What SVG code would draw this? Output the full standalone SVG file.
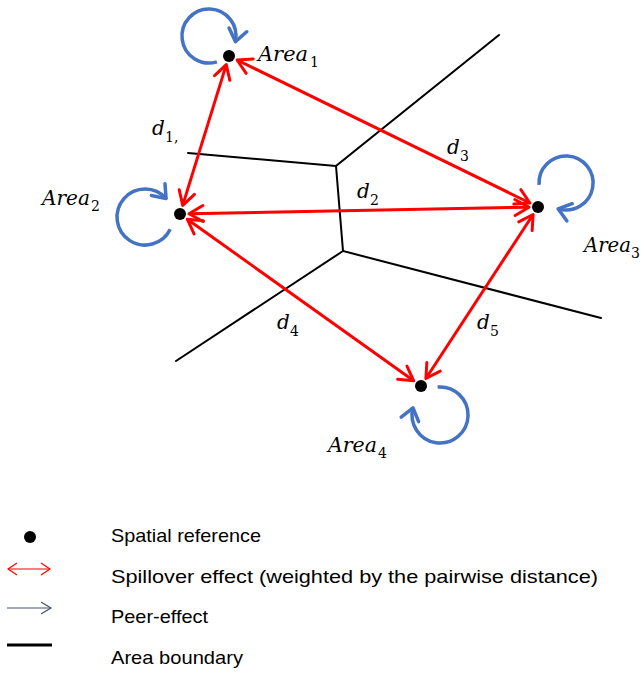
<svg xmlns="http://www.w3.org/2000/svg" width="641" height="674" viewBox="0 0 641 674">
<style>
.bnd{stroke:#000;stroke-width:2;fill:none;stroke-linecap:round}
.sp{stroke:#ff0000;stroke-width:3;fill:none;marker-start:url(#rh);marker-end:url(#rh)}
.lp{stroke:#4472c4;stroke-width:3.5;fill:none;marker-end:url(#bh)}
.dot{fill:#000}
.m{font-family:"DejaVu Serif","Liberation Serif",serif;font-style:italic;font-size:20px;fill:#000}
.sub{font-family:"DejaVu Serif","Liberation Serif",serif;font-size:14px;fill:#000}
.lg{font-family:"Liberation Sans",Arial,sans-serif;font-size:19px;fill:#000}
</style>
<defs>
<marker id="rh" markerUnits="userSpaceOnUse" markerWidth="20" markerHeight="20" viewBox="-16 -10 20 20" refX="0" refY="0" orient="auto-start-reverse">
<path d="M-14,-8 L0,0 L-14,8" fill="none" stroke="#ff0000" stroke-width="3" stroke-linecap="round" stroke-linejoin="round"/>
</marker>
<marker id="bh" markerUnits="userSpaceOnUse" markerWidth="22" markerHeight="22" viewBox="-16 -11 22 22" refX="0" refY="0" orient="auto">
<path d="M-12,-9 L0,0 L-12,9" fill="none" stroke="#4472c4" stroke-width="3.5" stroke-linecap="round" stroke-linejoin="round"/>
</marker>
<marker id="rl" markerUnits="userSpaceOnUse" markerWidth="14" markerHeight="14" viewBox="-10 -7 14 14" refX="0" refY="0" orient="auto-start-reverse">
<path d="M-9,-6 L0,0 L-9,6" fill="none" stroke="#ff0000" stroke-width="1.2"/>
</marker>
<marker id="gl" markerUnits="userSpaceOnUse" markerWidth="14" markerHeight="14" viewBox="-10 -7 14 14" refX="0" refY="0" orient="auto">
<path d="M-10,-6 L0,0 L-10,6" fill="none" stroke="#44546a" stroke-width="1.2"/>
</marker>
</defs>

<g id="boundaries">
<path class="bnd" d="M499,35 L336,166 L343,251 L601,318"/>
<path class="bnd" d="M188,153 L336,166"/>
<path class="bnd" d="M176,361 L343,251"/>
</g>

<g id="connectors">
<line class="sp" x1="226.3" y1="64.6" x2="182.7" y2="205.4"/>
<line class="sp" x1="237.1" y1="60.0" x2="529.9" y2="203.0"/>
<line class="sp" x1="189" y1="213.8" x2="529" y2="207.2"/>
<line class="sp" x1="187.3" y1="219.2" x2="413.7" y2="380.8"/>
<line class="sp" x1="533.1" y1="214.5" x2="425.9" y2="378.5"/>
<path class="lp" d="M216.9,61.8 A27,27 0 1 1 235.4,41.6"/>
<path class="lp" d="M170.2,229.3 A28,28 0 1 1 166.1,198.6"/>
<path class="lp" d="M539.1,184.9 A27,27 0 1 1 558.1,208.8"/>
<path class="lp" d="M437.6,387.1 A28,28 0 1 1 413,407.8"/>
</g>

<g id="area1"><circle class="dot" cx="229" cy="56" r="6"/><text class="m" x="258" y="61" textLength="50" lengthAdjust="spacingAndGlyphs">Area</text><text class="sub" x="310" y="67">1</text></g>
<g id="area2"><circle class="dot" cx="180" cy="214" r="6"/><text class="m" x="42" y="205" textLength="48" lengthAdjust="spacingAndGlyphs">Area</text><text class="sub" x="91" y="211">2</text></g>
<g id="area3"><circle class="dot" cx="538" cy="207" r="6"/><text class="m" x="584" y="252" textLength="47" lengthAdjust="spacingAndGlyphs">Area</text><text class="sub" x="631" y="258">3</text></g>
<g id="area4"><circle class="dot" cx="421" cy="386" r="6"/><text class="m" x="328" y="452" textLength="49" lengthAdjust="spacingAndGlyphs">Area</text><text class="sub" x="378" y="458">4</text></g>

<g id="labels">
<text class="m" x="152" y="135">d</text><text class="sub" x="165" y="142">1,</text>
<text class="m" x="447" y="154">d</text><text class="sub" x="460" y="161">3</text>
<text class="m" x="357" y="198">d</text><text class="sub" x="370" y="205">2</text>
<text class="m" x="277" y="329">d</text><text class="sub" x="290" y="336">4</text>
<text class="m" x="477" y="329">d</text><text class="sub" x="490" y="336">5</text>
</g>

<g id="legend">
<circle class="dot" cx="30" cy="537" r="6"/>
<line x1="8" y1="569" x2="50" y2="569" stroke="#ff0000" stroke-width="1.2" marker-start="url(#rl)" marker-end="url(#rl)"/>
<line x1="7" y1="608" x2="51" y2="608" stroke="#44546a" stroke-width="1.2" marker-end="url(#gl)"/>
<line x1="7" y1="645" x2="52" y2="645" stroke="#000" stroke-width="3"/>
<text class="lg" x="111" y="542" textLength="150" lengthAdjust="spacingAndGlyphs">Spatial reference</text>
<text class="lg" x="111" y="583" textLength="487" lengthAdjust="spacingAndGlyphs">Spillover effect (weighted by the pairwise distance)</text>
<text class="lg" x="111" y="623" textLength="97" lengthAdjust="spacingAndGlyphs">Peer-effect</text>
<text class="lg" x="111" y="664" textLength="132" lengthAdjust="spacingAndGlyphs">Area boundary</text>
</g>
</svg>
